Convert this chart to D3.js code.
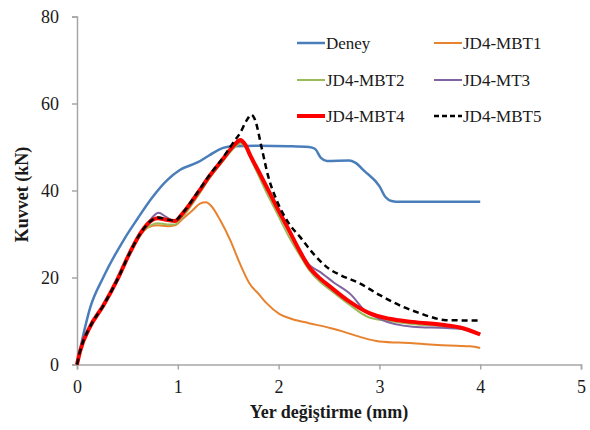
<!DOCTYPE html>
<html>
<head>
<meta charset="utf-8">
<script src="https://cdn.jsdelivr.net/npm/d3@7"></script>
<style>
  html, body { margin: 0; padding: 0; background: #fff; }
  svg { display: block; font-family: "Liberation Serif", "Times New Roman", serif; }
</style>
</head>
<body>
<svg id="chart" width="590" height="430"></svg>
<script>
// Load–displacement curves: x = displacement (mm), y = force (kN)
const xTicks = [0, 1, 2, 3, 4, 5];
const yTicks = [0, 20, 40, 60, 80];

const deney = [[0,0],[0.05,5.5],[0.13,13],[0.26,20],[0.46,28.5],[0.6,33.5],[0.75,38.5],[0.9,42.5],[1.02,44.7],[1.2,46.5],[1.32,48.2],[1.45,49.8],[1.55,50.2],[1.8,50.3],[2.1,50.2],[2.3,50.0],[2.36,49.6],[2.42,47.5],[2.48,46.8],[2.7,46.9],[2.76,46.4],[2.85,44.5],[3.0,41],[3.06,38.5],[3.12,37.6],[3.2,37.4],[4.0,37.4]];

const mbt1 = [[0,0],[0.03,3],[0.13,8.7],[0.26,13.5],[0.4,19.5],[0.52,25.3],[0.62,29.5],[0.7,31.5],[0.8,32],[0.9,31.8],[0.97,32],[1.05,33.5],[1.15,35.5],[1.22,37],[1.28,37.3],[1.33,36.5],[1.42,33.2],[1.52,28.6],[1.62,23],[1.71,18.7],[1.81,16],[1.88,14.1],[2.01,11.6],[2.14,10.4],[2.3,9.5],[2.51,8.4],[2.65,7.5],[2.8,6.4],[3.0,5.3],[3.33,4.9],[3.5,4.6],[3.76,4.3],[3.9,4.2],[4.0,3.8]];

const mbt2 = [[0,0],[0.03,3],[0.13,8.7],[0.26,13.5],[0.4,19.5],[0.52,25.5],[0.62,29.6],[0.7,31.5],[0.8,32.5],[0.9,32.2],[0.97,32.2],[1.05,34],[1.2,38.8],[1.32,43],[1.45,46.8],[1.56,49.8],[1.62,50.8],[1.67,50],[1.72,47.5],[1.8,43.5],[1.88,39.5],[1.98,35],[2.1,29.5],[2.2,25.5],[2.3,21.8],[2.41,19],[2.51,17.2],[2.7,13.8],[2.9,10.8],[3.1,10],[3.33,9.3],[3.66,8.7],[3.8,8.3],[4.0,7.1]];

const mt3 = [[0,0],[0.03,3],[0.13,8.7],[0.26,13.5],[0.4,19.5],[0.52,25.5],[0.62,29.8],[0.7,32.5],[0.81,34.9],[0.88,34],[0.97,33],[1.05,34.7],[1.2,39.4],[1.32,43.4],[1.45,47.2],[1.56,50.2],[1.62,51.2],[1.67,50.2],[1.72,47.8],[1.8,44.2],[1.88,40.6],[1.98,36],[2.1,30.8],[2.2,26.6],[2.3,23],[2.41,21.3],[2.55,18.8],[2.72,16],[2.85,12.5],[3.0,10.5],[3.33,8.7],[3.66,8.4],[3.8,8.2],[4.0,7.1]];

const mbt4 = [[0,0],[0.03,3],[0.13,8.7],[0.26,13.5],[0.4,19.5],[0.52,25.5],[0.62,29.8],[0.7,32.3],[0.8,33.6],[0.9,33.2],[0.97,33],[1.05,34.8],[1.2,39.5],[1.32,43.5],[1.45,47.3],[1.56,50.5],[1.62,51.6],[1.67,50.5],[1.72,48],[1.8,44.5],[1.88,40.9],[1.98,36.3],[2.1,31],[2.2,26.5],[2.3,22.5],[2.41,19.8],[2.51,17.9],[2.7,14.5],[2.9,11.8],[3.1,10.5],[3.33,9.8],[3.66,9],[3.8,8.5],[4.0,6.9]];

const mbt5 = [[0,0],[0.03,3],[0.13,8.7],[0.26,13.5],[0.4,19.5],[0.52,25.5],[0.62,29.8],[0.7,32.3],[0.8,33.8],[0.9,33.3],[0.97,33.1],[1.05,34.9],[1.2,39.7],[1.32,43.7],[1.45,47.6],[1.55,51],[1.62,53.3],[1.68,56],[1.73,57.4],[1.77,56],[1.83,50],[1.9,43],[1.98,37.8],[2.1,32.5],[2.21,29.4],[2.34,25.6],[2.5,22],[2.61,20.6],[2.8,18.7],[3.0,16],[3.23,13.3],[3.4,11.8],[3.5,11],[3.66,10.2],[4.0,10.1]];

const seriesNames = ["Deney", "JD4-MBT1", "JD4-MBT2", "JD4-MT3", "JD4-MBT4", "JD4-MBT5"];
const seriesData = [deney, mbt1, mbt2, mt3, mbt4, mbt5];
const seriesColors = ["#4A7EBB", "#E8822E", "#9BBB59", "#8064A2", "#FF0000", "#000000"];
const seriesWidths = [2.5, 2, 2, 2, 4, 2.5];
const seriesDash = [null, null, null, null, null, "6,4"];

const svg = d3.select("#chart");
const margin = { left: 77, right: 9, top: 16.5, bottom: 65.5 };
const W = 590, H = 430;

const x = d3.scaleLinear().domain([0, 5]).range([margin.left, W - margin.right]);
const y = d3.scaleLinear().domain([0, 80]).range([H - margin.bottom, margin.top]);

const axisColor = "#A6A6A6";

// x axis
const gx = svg.append("g")
  .attr("transform", `translate(0,${y(0)})`)
  .call(d3.axisBottom(x).tickValues(xTicks).tickSize(5).tickPadding(11).tickFormat(d3.format("d")));
// y axis
const gy = svg.append("g")
  .attr("transform", `translate(${x(0)},0)`)
  .call(d3.axisLeft(y).tickValues(yTicks).tickSize(5).tickPadding(13).tickFormat(d3.format("d")));

[gx, gy].forEach(g => {
  g.select(".domain").attr("stroke", axisColor).attr("stroke-width", 1.5);
  g.selectAll(".tick line").attr("stroke", axisColor).attr("stroke-width", 1.5);
  g.selectAll(".tick text")
    .attr("fill", "#1a1a1a")
    .style("font-family", '"Liberation Serif", serif')
    .style("font-size", "18px");
});

// axis titles
svg.append("text")
  .attr("x", (x(0) + x(5)) / 2)
  .attr("y", 418)
  .attr("text-anchor", "middle")
  .style("font-size", "18px")
  .style("font-weight", "bold")
  .attr("fill", "#1a1a1a")
  .text("Yer değiştirme (mm)");

svg.append("text")
  .attr("transform", `translate(28,${(y(0) + y(80)) / 2 + 4}) rotate(-90)`)
  .attr("text-anchor", "middle")
  .style("font-size", "18px")
  .style("font-weight", "bold")
  .attr("fill", "#1a1a1a")
  .text("Kuvvet (kN)");

// curves
const line = d3.line()
  .x(d => x(d[0]))
  .y(d => y(d[1]))
  .curve(d3.curveMonotoneX);

seriesData.forEach((data, i) => {
  svg.append("path")
    .datum(data)
    .attr("d", line)
    .attr("fill", "none")
    .attr("stroke", seriesColors[i])
    .attr("stroke-width", seriesWidths[i])
    .attr("stroke-dasharray", seriesDash[i])
    .attr("stroke-linejoin", "round");
});

// legend: two columns, three rows
const legendX = [297, 434];
const legendY = [43, 80, 116];
seriesNames.forEach((name, i) => {
  const lx = legendX[i % 2];
  const ly = legendY[Math.floor(i / 2)];
  const g = svg.append("g").attr("transform", `translate(${lx},${ly})`);
  g.append("line")
    .attr("x1", 0).attr("x2", 28)
    .attr("y1", 0).attr("y2", 0)
    .attr("stroke", seriesColors[i])
    .attr("stroke-width", seriesWidths[i])
    .attr("stroke-dasharray", seriesDash[i] ? "5,3" : null);
  g.append("text")
    .attr("x", 29)
    .attr("y", 6)
    .style("font-size", "17px")
    .attr("fill", "#1a1a1a")
    .text(name);
});
</script>
</body>
</html>
